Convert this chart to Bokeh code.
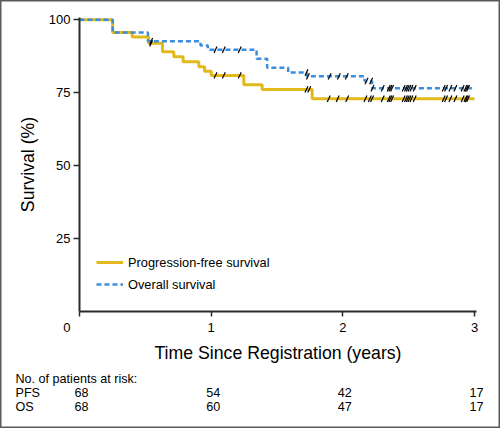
import math
from bokeh.plotting import figure
from bokeh.models import (Range1d, FixedTicker, ColumnDataSource, Legend, LegendItem)
from bokeh.embed import file_html
from bokeh.resources import INLINE
from bokeh.core.properties import value

# ---- data ----
pfs_time = [0, 0.252, 0.40, 0.525, 0.63, 0.716, 0.787, 0.906, 0.95, 1.0, 1.248, 1.387, 1.767, 3.0]
pfs_surv = [100, 95.6, 94.1, 91.9, 89.0, 87.3, 85.6, 83.9, 82.3, 80.9, 77.7, 76.1, 72.9, 72.9]

os_time = [0, 0.252, 0.52, 0.919, 0.975, 1.345, 1.425, 1.585, 1.727, 2.165, 2.222, 3.0]
os_surv = [100, 95.6, 92.6, 91.2, 89.7, 86.6, 83.5, 81.9, 80.6, 79.0, 76.5, 76.5]

pfs_censor = [0.544, 1.033, 1.096, 1.217, 1.724, 1.745, 1.893, 1.961, 2.033, 2.172, 2.205,
              2.222, 2.303, 2.349, 2.361, 2.374, 2.462, 2.480, 2.493, 2.506, 2.521, 2.546,
              2.766, 2.784, 2.817, 2.855, 2.910, 2.931, 2.941, 2.951]
os_censor = [0.544, 1.033, 1.096, 1.217, 1.724, 1.735, 1.90, 1.97, 2.03, 2.18, 2.215,
             2.225, 2.303, 2.349, 2.361, 2.374, 2.462, 2.480, 2.493, 2.506, 2.521, 2.546,
             2.766, 2.784, 2.817, 2.855, 2.910, 2.931, 2.941, 2.951]

risk_time = [0, 1, 2, 3]
pfs_at_risk = [68, 54, 42, 17]
os_at_risk = [68, 60, 47, 17]

x_ticks = [0, 1, 2, 3]
y_ticks = [25, 50, 75, 100]

series_names = ["Progression-free survival", "Overall survival"]
risk_title = "No. of patients at risk:"
risk_rows = ["PFS", "OS"]

FONT = "Liberation Sans"
YELLOW = "#E2B91C"
BLUE = "#3A8EDB"
AXIS = "#2a2a2a"

# ---- geometry (pixels) ----
W, H = 500, 428
X0_PX = 79.0          # pixel column of t = 0
PX_PER_YEAR = 131.67
Y0_PX = 311.0         # pixel row of survival = 0
PX_PER_PCT = 2.918
RISK_ROW_PX = [378, 392, 406]
RISK_LEFT_PX = 15


def surv_at(times, survs, t):
    s = survs[0]
    for ti, si in zip(times, survs):
        if ti <= t:
            s = si
    return s


x_start = -X0_PX / PX_PER_YEAR
x_end = (W - X0_PX) / PX_PER_YEAR
y_end = Y0_PX / PX_PER_PCT
y_start = -(H - Y0_PX) / PX_PER_PCT

p = figure(width=W, height=H, x_range=Range1d(x_start, x_end),
           y_range=Range1d(y_start, y_end), output_backend="svg", toolbar_location=None,
           min_border_left=0, min_border_right=0, min_border_top=0, min_border_bottom=0)
p.title.visible = False
p.grid.visible = False
p.outline_line_color = "#5a5a5a"
p.outline_line_width = 2
p.background_fill_color = "white"
p.border_fill_color = "white"

# curves
r_pfs = p.step(pfs_time, pfs_surv, mode="after", line_color=YELLOW, line_width=3)
r_os = p.step(os_time, os_surv, mode="after", line_color=BLUE, line_width=2.5,
              line_dash="5 3")

# censor marks
pfs_cy = [surv_at(pfs_time, pfs_surv, t) for t in pfs_censor]
os_cy = [surv_at(os_time, os_surv, t) for t in os_censor]
ang = math.radians(65)
p.scatter(pfs_censor, pfs_cy, marker="dash", size=7, angle=ang, line_color="black",
          line_width=1.2)
p.scatter(os_censor, os_cy, marker="dash", size=7, angle=ang, line_color="black",
          line_width=1.2)

# axes, pinned at the data origin
for ax in (p.xaxis[0], p.yaxis[0]):
    ax.fixed_location = 0
    ax.axis_line_width = 2
    ax.axis_line_color = AXIS
    ax.major_tick_line_color = AXIS
    ax.major_tick_line_width = 1.5
    ax.major_tick_in = 0
    ax.minor_tick_line_color = None
    ax.major_label_text_font = FONT
    ax.major_label_text_font_size = "13px"
    ax.major_label_text_color = "black"
    ax.axis_label_text_font = FONT
    ax.axis_label_text_font_size = "17.7px"
    ax.axis_label_text_font_style = "normal"
    ax.axis_label_text_color = "black"

p.yaxis.ticker = FixedTicker(ticks=y_ticks)
p.yaxis.bounds = (0, 100.8)
p.yaxis.major_tick_out = 6
p.yaxis.major_label_standoff = 3
p.yaxis.axis_label = "Survival (%)"
p.yaxis.axis_label_standoff = 8

p.xaxis.ticker = FixedTicker(ticks=x_ticks)
p.xaxis.bounds = (0, 3.015)
p.xaxis.major_label_overrides = {0: "0" + "\u00a0" * 7}
p.xaxis.major_tick_out = 5
p.xaxis.major_label_standoff = 3
p.xaxis.axis_label = "Time Since Registration (years)"
p.xaxis.axis_label_standoff = 5

# legend
legend = Legend(items=[LegendItem(label=series_names[0], renderers=[r_pfs]),
                       LegendItem(label=series_names[1], renderers=[r_os])],
                location=(X0_PX + 17, H - Y0_PX + 19), orientation="vertical")
legend.glyph_width = 27
legend.glyph_height = 16
legend.label_height = 16
legend.label_standoff = 5
legend.spacing = 6
legend.padding = 0
legend.margin = 0
legend.border_line_color = None
legend.background_fill_alpha = 0
legend.label_text_font = FONT
legend.label_text_font_size = "12.8px"
legend.label_text_color = "black"
p.add_layout(legend)

# ---- risk table ----
RFS = "12.6px"
row_y = [(Y0_PX - py) / PX_PER_PCT for py in RISK_ROW_PX]
row_names = [risk_title] + risk_rows
p.text(x=[x_start] * len(row_names), y=row_y, text=row_names, x_offset=RISK_LEFT_PX,
       text_align="left", text_baseline="middle", text_font=value(FONT),
       text_font_size=value(RFS), text_color="black")

cnt_t, cnt_y, cnt_txt = [], [], []
for yy, counts in zip(row_y[1:], (pfs_at_risk, os_at_risk)):
    for t, c in zip(risk_time, counts):
        cnt_t.append(t)
        cnt_y.append(yy)
        cnt_txt.append(str(c))
src = ColumnDataSource(dict(t=cnt_t, y=cnt_y, n=cnt_txt))
p.text(x="t", y="y", text="n", source=src, x_offset=2, text_align="center",
       text_baseline="middle", text_font=value(FONT), text_font_size=value(RFS),
       text_color="black")

open("out.html", "w").write(file_html(p, INLINE))
